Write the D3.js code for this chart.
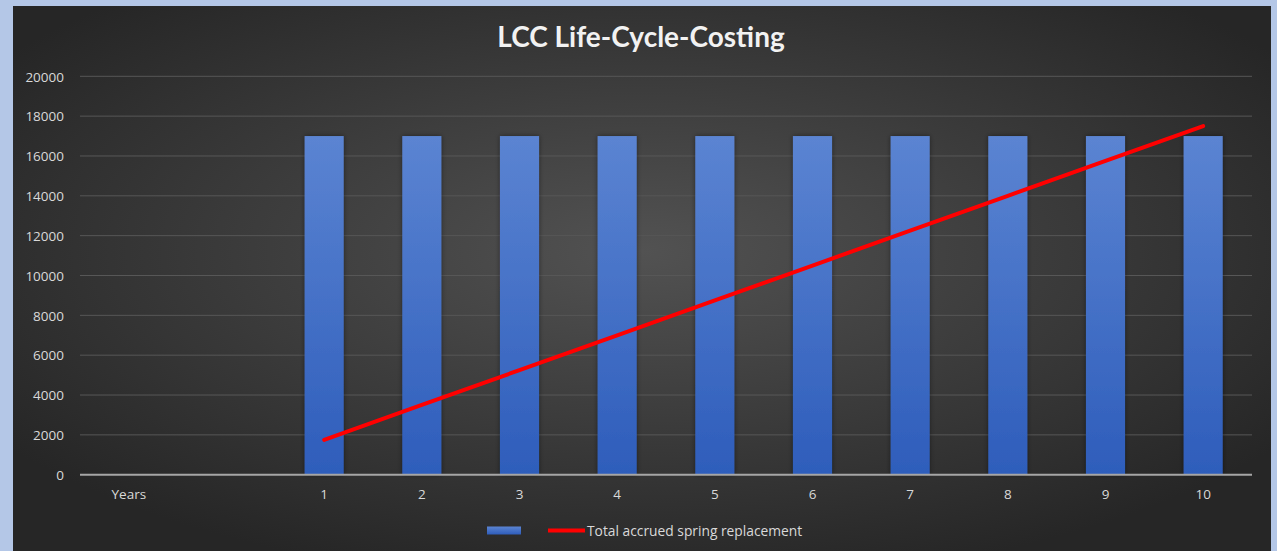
<!DOCTYPE html>
<html>
<head>
<meta charset="utf-8">
<script src="https://cdn.jsdelivr.net/npm/d3@7"></script>
<style>
  html, body { margin: 0; padding: 0; background: #b4c7e7; }
  svg { display: block; }
</style>
</head>
<body>
<svg id="chart" width="1277" height="551"></svg>
<script>
// Chart data
const categories = ["Years", "", "1", "2", "3", "4", "5", "6", "7", "8", "9", "10"];
const barValues = [null, null, 17000, 17000, 17000, 17000, 17000, 17000, 17000, 17000, 17000, 17000];
const accruedValues = [null, null, 1750, 3500, 5250, 7000, 8750, 10500, 12250, 14000, 15750, 17500];
const yTicks = [0, 2000, 4000, 6000, 8000, 10000, 12000, 14000, 16000, 18000, 20000];
const chartTitle = "LCC Life-Cycle-Costing";
const legendLabel = "Total accrued spring replacement";

const svg = d3.select("#chart");
const defs = svg.append("defs");

// Panel background: dark radial gradient
const bg = defs.append("radialGradient").attr("id", "bgGrad")
  .attr("cx", "50%").attr("cy", "45%").attr("r", "62%");
bg.append("stop").attr("offset", "0%").attr("stop-color", "#525252");
bg.append("stop").attr("offset", "100%").attr("stop-color", "#262626");

const barGrad = defs.append("linearGradient").attr("id", "barGrad")
  .attr("x1", 0).attr("y1", 0).attr("x2", 0).attr("y2", 1);
barGrad.append("stop").attr("offset", "0%").attr("stop-color", "#5b84d2");
barGrad.append("stop").attr("offset", "100%").attr("stop-color", "#2e5dbb");

const shadow = defs.append("filter").attr("id", "barShadow")
  .attr("x", "-30%").attr("y", "-10%").attr("width", "160%").attr("height", "120%");
shadow.append("feDropShadow").attr("dx", 0).attr("dy", 0).attr("stdDeviation", 2.5)
  .attr("flood-color", "#000").attr("flood-opacity", 0.45);

const panel = { x: 13, y: 6, w: 1258, h: 545 };
svg.append("rect").attr("x", panel.x).attr("y", panel.y)
  .attr("width", panel.w).attr("height", panel.h).attr("fill", "url(#bgGrad)");

const plot = { left: 80, right: 1252, top: 76.3, bottom: 474.7 };

const x = d3.scaleBand().domain(categories).range([plot.left, plot.right]).paddingInner(0.6).paddingOuter(0.3);
const y = d3.scaleLinear().domain([0, 20000]).range([plot.bottom, plot.top]);

// Title
svg.append("text").attr("x", 641).attr("y", 47).attr("text-anchor", "middle")
  .attr("font-family", "Lato, 'Open Sans', sans-serif").attr("font-weight", "bold")
  .attr("font-size", 28).attr("fill", "#f2f2f2").text(chartTitle);

// Gridlines
svg.append("g").selectAll("line").data(yTicks.filter(d => d > 0)).join("line")
  .attr("x1", plot.left).attr("x2", plot.right)
  .attr("y1", d => y(d)).attr("y2", d => y(d))
  .attr("stroke", "#575757").attr("stroke-width", 1);

// Y axis labels
const yAxis = d3.axisLeft(y).tickValues(yTicks).tickSize(0).tickPadding(0).tickFormat(d3.format("d"));
const yg = svg.append("g").attr("transform", `translate(${plot.left - 16},0)`).call(yAxis);
yg.select(".domain").remove();
yg.selectAll("text").attr("font-family", "'Open Sans', sans-serif").attr("font-size", 13.5)
  .attr("fill", "#d9d9d9").attr("dy", "0.35em");

// Bars
const idx = d3.range(categories.length);
svg.append("g").selectAll("rect").data(idx.filter(i => barValues[i] != null)).join("rect")
  .attr("x", i => x(categories[i]))
  .attr("width", x.bandwidth())
  .attr("y", i => y(barValues[i]))
  .attr("height", i => y(0) - y(barValues[i]))
  .attr("fill", "url(#barGrad)")
  .attr("filter", "url(#barShadow)");

// X axis
const xAxis = d3.axisBottom(x).tickSize(0).tickPadding(15);
const xg = svg.append("g").attr("transform", `translate(0,${plot.bottom})`).call(xAxis);
xg.select(".domain").attr("stroke", "#a6a6a6").attr("stroke-width", 2)
  .attr("d", `M${plot.left},0H${plot.right}`);
xg.selectAll("text").attr("font-family", "'Open Sans', sans-serif").attr("font-size", 13.5)
  .attr("fill", "#d9d9d9");

// Accrued cost line
const lineGen = d3.line()
  .defined(i => accruedValues[i] != null)
  .x(i => x(categories[i]) + x.bandwidth() / 2)
  .y(i => y(accruedValues[i]));
svg.append("path").datum(idx).attr("d", lineGen)
  .attr("fill", "none").attr("stroke", "#ff0000").attr("stroke-width", 4)
  .attr("stroke-linecap", "round");

// Legend
const lg = svg.append("g");
lg.append("rect").attr("x", 487).attr("y", 526.5).attr("width", 34).attr("height", 8)
  .attr("fill", "url(#barGrad)");
lg.append("line").attr("x1", 548).attr("x2", 585).attr("y1", 530.5).attr("y2", 530.5)
  .attr("stroke", "#ff0000").attr("stroke-width", 4);
lg.append("text").attr("x", 587).attr("y", 531).attr("dy", "0.35em")
  .attr("font-family", "'Open Sans', sans-serif").attr("font-size", 13.8)
  .attr("fill", "#d9d9d9").text(legendLabel);
</script>
</body>
</html>
